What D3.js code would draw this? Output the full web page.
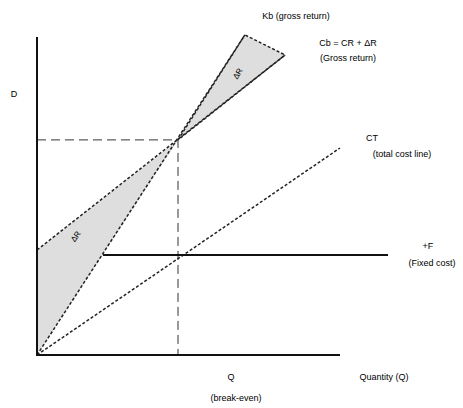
<!DOCTYPE html>
<html>
<head>
<meta charset="utf-8">
<script src="https://cdn.jsdelivr.net/npm/d3@7"></script>
<style>
body { margin:0; background:#fff; }
text { font-family: "Liberation Sans", Arial, sans-serif; font-size:9px; fill:#000; }
</style>
</head>
<body>
<svg width="463" height="408"></svg>
<script>
// values in chart units (x: quantity, y: money)
var crossPt = [4.7, 7.17];
var steepLine = [[0, 0], [6.93, 10.67]];
var flatLine = [[0, 3.5], [8.27, 10]];
var costLine = [[0, 0], [10.1, 6.9]];
var fixedLine = [[2.2, 3.33], [11.7, 3.33]];
var xAxisEnd = 10.1, yAxisEnd = 10.6;

var svg = d3.select("svg");
var x = d3.scaleLinear().domain([0, 10]).range([37, 337]);
var y = d3.scaleLinear().domain([0, 10]).range([355, 55]);
var line = d3.line().x(function(d){ return x(d[0]) }).y(function(d){ return y(d[1]) });

// shaded wedges
var leftTri = [[0, 0], flatLine[0], crossPt];
var rightTri = [crossPt, steepLine[1], flatLine[1]];
svg.append("path").attr("d", line(leftTri) + "Z").attr("fill", "#dedede");
svg.append("path").attr("d", line(rightTri) + "Z").attr("fill", "#dedede")
   .attr("stroke", "#222").attr("stroke-width", 1.5).attr("stroke-dasharray", "3,2");

// guide lines
svg.append("path").attr("d", line([[0, crossPt[1]], crossPt, [crossPt[0], 0]]))
   .attr("fill", "none").attr("stroke", "#333").attr("stroke-width", 1).attr("stroke-dasharray", "9,5");

// dashed lines
[steepLine, flatLine, costLine].forEach(function(l){
  svg.append("path").attr("d", line(l)).attr("fill", "none")
     .attr("stroke", "#222").attr("stroke-width", 1.5).attr("stroke-dasharray", "3,2");
});

// fixed line
svg.append("path").attr("d", line(fixedLine)).attr("stroke", "#111").attr("stroke-width", 2);

// axes
svg.append("path").attr("d", line([[0, yAxisEnd], [0, 0], [xAxisEnd, 0]]))
   .attr("fill", "none").attr("stroke", "#111").attr("stroke-width", 2);

// labels
var labels = [
  ["D", 14, 97, "middle"],
  ["Kb (gross return)", 296, 19, "middle"],
  ["Cb = CR + ΔR", 348, 46, "middle"],
  ["(Gross return)", 348, 61, "middle"],
  ["CT", 372, 141, "middle"],
  ["(total cost line)", 402, 157, "middle"],
  ["+F", 428, 249, "middle"],
  ["(Fixed cost)", 432, 266, "middle"],
  ["Quantity (Q)", 384, 380, "middle"],
  ["Q", 231, 380, "middle"],
  ["(break-even)", 236, 401, "middle"]
];
svg.selectAll("text.lab").data(labels).enter().append("text")
   .attr("class", "lab")
   .attr("x", function(d){ return d[1] }).attr("y", function(d){ return d[2] })
   .attr("text-anchor", function(d){ return d[3] })
   .text(function(d){ return d[0] });

svg.append("text").attr("transform", "translate(78,238) rotate(-55)").attr("text-anchor", "middle")
   .style("font-size", "8px").text("ΔR");
svg.append("text").attr("transform", "translate(240,75) rotate(-60)").attr("text-anchor", "middle")
   .style("font-size", "8px").text("ΔR");
</script>
</body>
</html>
